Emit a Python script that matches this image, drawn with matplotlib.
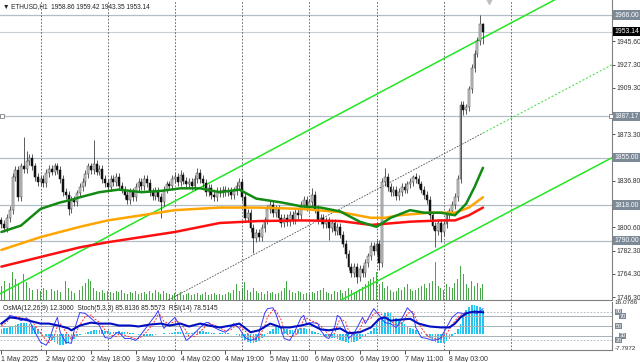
import matplotlib
matplotlib.use("Agg")
import matplotlib.pyplot as plt
from matplotlib.transforms import blended_transform_factory

plt.rcParams["font.family"] = ["Liberation Sans", "DejaVu Sans"]
plt.rcParams["font.size"] = 5

# ---- ETHUSD H1, 1 May 10:00 .. 8 May 14:00 ----
closes = [
    1803, 1800, 1808, 1814, 1840, 1845, 1824, 1848, 1846, 1852,
    1855, 1848, 1840, 1836, 1838, 1835, 1843, 1846, 1844, 1848,
    1845, 1838, 1828, 1826, 1815, 1822, 1820, 1827, 1832, 1836,
    1842, 1848, 1845, 1850, 1844, 1846, 1838, 1835, 1832, 1838,
    1836, 1840, 1833, 1830, 1826, 1822, 1828, 1824, 1832, 1836,
    1833, 1838, 1835, 1828, 1825, 1829, 1824, 1820, 1830, 1834,
    1833, 1838, 1840, 1836, 1841, 1837, 1834, 1836, 1833, 1838,
    1843, 1838, 1835, 1828, 1831, 1826, 1824, 1829, 1827, 1830,
    1828, 1829, 1826, 1829, 1833, 1836, 1824, 1808, 1812, 1800,
    1792, 1796, 1793, 1800, 1806, 1815, 1818, 1812, 1815, 1808,
    1804, 1808, 1805, 1810, 1806, 1812, 1810, 1818, 1822, 1816,
    1820, 1826, 1815, 1806, 1808, 1803, 1806, 1800, 1804, 1798,
    1801, 1795, 1788, 1780, 1770, 1765, 1770, 1762, 1768, 1765,
    1773, 1778, 1786, 1782, 1788, 1773, 1836, 1840, 1832, 1828,
    1830, 1825, 1828, 1832, 1830, 1834, 1836, 1840, 1838, 1834,
    1830, 1826, 1822, 1810, 1802, 1798, 1804, 1797, 1803, 1810,
    1813, 1818, 1824, 1838, 1896, 1892, 1894, 1908, 1925, 1936,
    1946, 1958.86, 1953.14,
]
first_open = 1806.0
wick = 3.0
high_marks = {8: 1871, 9: 1860, 33: 1869, 64: 1845, 70: 1847, 85: 1839,
              111: 1831, 137: 1847, 147: 1841, 171: 1966.0, 172: 1959.42}
low_marks = {24: 1810, 57: 1808, 90: 1781, 117: 1791, 127: 1757, 135: 1767,
             155: 1785, 157: 1789, 165: 1888, 172: 1943.35}

volumes = [
    14, 18, 22, 16, 27, 20, 15, 24, 25, 17,
    12, 10, 13, 11, 9, 12, 10, 8, 11, 9,
    10, 8, 9, 18, 12, 9, 7, 8, 10, 14,
    16, 20, 18, 12, 9, 8, 10, 7, 9, 8,
    7, 9, 8, 10, 7, 6, 8, 7, 9, 6,
    7, 8, 6, 9, 7, 10, 8, 6, 9, 7,
    6, 5, 7, 6, 8, 5, 6, 7, 5, 6,
    7, 5, 6, 8, 5, 6, 7, 5, 6, 5,
    6, 8, 7, 10, 15, 9, 12, 17, 10, 8,
    12, 9, 7, 8, 6, 9, 7, 8, 6, 7,
    9, 12, 18, 10, 8, 7, 9, 8, 6, 7,
    6, 8, 7, 9, 10, 12, 8, 7, 6, 9,
    8, 10, 7, 9, 12, 10, 8, 9, 11, 13,
    15, 18, 20, 22, 27, 15, 17, 12, 14, 10,
    8, 9, 12, 10, 13, 15, 11, 9, 10, 12,
    14, 15, 12, 16, 18, 37, 14, 12, 10, 15,
    13, 12, 16, 20, 33, 25, 15, 12, 18, 14,
    16, 12, 15,
]

# moving averages (bar index, price)
ma_green_bars = [0, 7, 14, 21, 25, 28, 35, 42, 50, 57, 64, 71, 78, 85, 91,
                 100, 107, 114, 121, 128, 134, 139, 146, 151, 157, 162, 166, 169, 172]
ma_green = [1797, 1802, 1815, 1820, 1822, 1824, 1828, 1830, 1828, 1829, 1831, 1831,
            1828, 1830, 1823, 1820, 1817, 1816, 1813, 1805, 1801, 1808, 1814, 1812,
            1812, 1810, 1819, 1832, 1847]
ma_orange_bars = [0, 14, 28, 38, 50, 62, 78, 92, 107, 121, 132, 137, 142, 153, 162, 167, 172]
ma_orange = [1783, 1793, 1801, 1806, 1810, 1814, 1816, 1816, 1815, 1812.5, 1808,
             1808, 1810, 1812, 1812, 1816, 1824]
ma_red_bars = [0, 14, 28, 38, 50, 62, 78, 92, 107, 121, 132, 135, 146, 157, 162, 167, 172]
ma_red = [1770, 1777.5, 1785, 1789, 1793, 1797, 1804, 1805.5, 1806, 1805.5, 1802.5,
          1803, 1805, 1806, 1806, 1810, 1816]

# trend channel anchors (bar, price)
chan_upper = [(0, 1749.4), (197.5, 1977.7)]
chan_lower = [(121.4, 1744.0), (218.6, 1855.4)]
chan_mid = [(59.6, 1744.0), (172, 1874.0)]
chan_mid_ext = [(172, 1874.0), (230, 1941.0)]

levels = [1966.00, 1887.17, 1855.00, 1818.00, 1790.00]
bid_price = 1953.14
price_ticks = [1945.60, 1927.30, 1909.30, 1873.30,
               1836.80, 1800.60, 1782.30, 1764.30, 1746.30]

# oscillators
osma = [
    2.5, 3, 3, 3.5, 4,
    4.5, 5, 5.5, 5.6, 5.4, 5, 4.5, 3.5, 2.5,
    1, 0,
    -1, -2, -3, -4, -4.8, -5.3, -5.2, -5, -4.5, -3.5, -2.5, -1.5,
    -0.5, 0.3, 0.8, 1.2,
    1.6, 2, 2.1, 2.1, 2, 1.8, 1.5, 1.3, 1.2,
    1.3, 1.5, 1.4, 1.2, 1, 0.8, 0.5, 0.2, -0.2,
    -0.5, -0.8, -1, -1, -0.8, -0.4, 0, 0.3, 0.5, 0.4,
    0.5, 0.8, 1, 1.2, 1, 0.8, 0.5,
    0.6, 0.9, 1.2, 1.5, 1.6, 1.5, 1.3, 1, 0.8, 0.6, 0.4, 0.5, 0.7, 0.8, 0.6, 0.3, 0, -0.5, -1,
    -2, -3, -3.8, -4.4, -4.4, -4, -3.2, -2, -0.8, 0.5,
    1.8, 2.8, 3.5, 3.6, 3.3, 2.8, 2.4,
    2.2, 2.3, 2.6, 2.8, 3, 3, 2.7, 2.3, 1.8, 1.2, 0.5,
    -0.5, -1, -1.5, -1.5, -1.8,
    -2, -2.5, -3, -3.5, -4, -4.2, -4, -3.8, -3.2, -2.4, -1.5, -0.6,
    0.5, 1.5,
    3, 5, 7, 9, 10.5, 11, 10.5, 9,
    8, 7, 6, 5, 4, 3.3, 2.7, 2, 1.5,
    1, 0.3,
    -0.8, -1.8, -2.8, -3.6, -4.2, -4.4, -4.2, -3.5, -2.5, -1.2,
    0.5, 2.5, 5,
    9, 12, 13.5, 14.5, 14.6, 14.2, 13.5, 12.3,
]
stoch_bars = [
    0, 2, 3, 5, 7, 9, 10, 12, 14, 16,
    17, 19, 20, 21, 23, 25, 26, 28, 30, 32,
    33, 35, 37, 39, 41, 42, 44, 46, 48, 49,
    51, 53, 55, 56, 57, 58, 60, 62, 64, 66,
    67, 69, 71, 73, 74, 76, 78, 80, 82, 83,
    85, 87, 89, 91, 92, 94, 95, 97, 98, 100,
    101, 103, 105, 107, 108, 109, 111, 113, 114, 116,
    117, 119, 120, 121, 123, 124, 126, 128, 129, 130,
    132, 133, 135, 137, 139, 141, 142, 144, 145, 147,
    148, 150, 152, 154, 156, 157, 159, 161, 163, 165,
    166, 168, 170, 172,
]
stoch_main = [
    55, 65, 72, 69, 61, 67, 61, 37, 16, 10,
    20, 55, 68, 37, 16, 14, 41, 78, 76, 66,
    61, 51, 26, 24, 35, 37, 24, 24, 20, 26,
    41, 57, 72, 82, 61, 45, 57, 68, 47, 20,
    24, 35, 47, 57, 57, 47, 41, 37, 47, 55,
    45, 26, 20, 24, 35, 76, 86, 88, 76, 41,
    24, 20, 41, 67, 72, 55, 57, 55, 41, 26,
    24, 47, 72, 68, 41, 24, 35, 57, 68, 55,
    76, 86, 72, 57, 55, 47, 55, 76, 88, 76,
    47, 26, 24, 20, 22, 26, 47, 68, 78, 76,
    78, 78, 76, 86,
]
stoch_signal = [
    50, 58, 66, 70, 67, 65, 63, 52, 35, 20,
    15, 30, 50, 55, 38, 22, 28, 52, 70, 73,
    66, 58, 42, 31, 28, 33, 31, 27, 23, 24,
    32, 46, 62, 74, 72, 60, 54, 60, 57, 40,
    28, 28, 38, 50, 56, 52, 46, 40, 42, 48,
    49, 40, 28, 22, 27, 48, 68, 84, 82, 62,
    40, 28, 30, 48, 64, 66, 60, 56, 50, 38,
    30, 34, 52, 66, 58, 40, 32, 42, 58, 62,
    66, 76, 78, 68, 60, 52, 52, 62, 76, 80,
    66, 46, 30, 24, 22, 24, 34, 52, 68, 76,
    77, 78, 77, 82,
]
rsi_bars = [0, 3, 7, 10, 14, 17, 21, 24, 25, 28,
            32, 35, 39, 42, 46, 49, 53, 57, 60, 64,
            67, 71, 74, 78, 82, 85, 89, 92, 96, 100,
            103, 107, 110, 114, 117, 121, 124, 128, 132, 135,
            137, 139, 142, 146, 149, 153, 157, 160, 162, 164,
            166, 167, 169, 172]
rsi = [55, 68, 65, 61, 55, 55, 50, 45, 41, 51,
       57, 55, 55, 51, 51, 49, 53, 55, 51, 55,
       49, 55, 51, 47, 51, 55, 37, 41, 55, 47,
       47, 51, 55, 43, 41, 45, 35, 37, 47, 65,
       68, 61, 63, 65, 55, 49, 47, 47, 55, 68,
       76, 78, 80, 78.5]
osma_range = (-7.7972, 16.0786)
osc_levels = [80, 70, 50, 30, 20]

time_bars = [0, 16, 32, 48, 64, 80, 96, 112, 128, 144, 160]
time_labels = ["1 May 2025", "2 May 02:00", "2 May 18:00", "3 May 10:00", "4 May 02:00",
               "4 May 19:00", "5 May 11:00", "6 May 03:00", "6 May 19:00", "7 May 11:00",
               "8 May 03:00"]
day_bars = [14, 38, 62, 86, 110, 134, 158, 182]

# ---- figure ----
W, H = 640, 362
fig = plt.figure(figsize=(W / 100, H / 100), dpi=100, facecolor="white")
ax = fig.add_axes([0, 1 - 300 / H, 612 / W, 300 / H])
axi = fig.add_axes([0, 1 - 350 / H, 612 / W, 48 / H], sharex=ax)

n = len(closes)
bars = list(range(n))
opens = [first_open] + closes[:-1]
highs = [high_marks.get(i, max(opens[i], closes[i]) + wick) for i in bars]
lows = [low_marks.get(i, min(opens[i], closes[i]) - wick) for i in bars]

for lv in levels:
    ax.axhline(lv, color="#b4bcc4", lw=0.9, zorder=1)
ax.axhline(bid_price, color="#c8ced4", lw=0.8, zorder=1)
for d in day_bars:
    ax.axvline(d, color="#555555", lw=0.6, ls=(0, (2, 2)), zorder=1)
    axi.axvline(d, color="#555555", lw=0.6, ls=(0, (2, 2)), zorder=1)

# volumes behind the price
axv = ax.twinx()
axv.bar(bars, volumes, width=0.35, color="#46a846", zorder=1)
axv.set_ylim(0, 290)
axv.axis("off")
ax.set_zorder(axv.get_zorder() + 1)
ax.patch.set_visible(False)

# channel
ax.axline(chan_upper[0], chan_upper[1], color="#22e622", lw=1.1, zorder=2)
ax.axline(chan_lower[0], chan_lower[1], color="#22e622", lw=1.1, zorder=2)
ax.plot(*zip(*chan_mid), color="#505050", lw=0.6, ls=(0, (2, 1.5)), zorder=2)
ax.plot(*zip(*chan_mid_ext), color="#33dd33", lw=0.7, ls=(0, (2, 2)), zorder=2)

# candles
ax.vlines(bars, lows, highs, color="#404040", lw=0.6, zorder=3)
up = [i for i in bars if closes[i] >= opens[i]]
dn = [i for i in bars if closes[i] < opens[i]]
ax.bar(up, [closes[i] - opens[i] for i in up], bottom=[opens[i] for i in up],
       width=0.66, color="#cfcfcf", edgecolor="#404040", lw=0.35, zorder=4)
ax.bar(dn, [opens[i] - closes[i] for i in dn], bottom=[closes[i] for i in dn],
       width=0.66, color="#111111", edgecolor="#111111", lw=0.35, zorder=4)

# moving averages
ax.plot(ma_red_bars, ma_red, color="#ff1010", lw=1.8, zorder=5, solid_capstyle="round")
ax.plot(ma_orange_bars, ma_orange, color="#ffa500", lw=1.8, zorder=5, solid_capstyle="round")
ax.plot(ma_green_bars, ma_green, color="#138a13", lw=1.8, zorder=5, solid_capstyle="round")

ax.set_xlim(-0.5, 218.1)
ax.set_ylim(1744.0, 1977.7)

# small anchors of the 1887.17 line and chart-shift marker
ax.plot([0.3], [1887.17], marker="s", ms=2.5, mfc="white", mec="#666666", mew=0.5,
        clip_on=False, zorder=6)
ax.plot([217.6], [1887.17], marker="s", ms=2.5, mfc="white", mec="#666666", mew=0.5,
        clip_on=False, zorder=6)
ax.plot([174], [1977.0], marker="v", ms=4, color="#c0c0c0", clip_on=False, zorder=6)

# right price scale
for s in ("top", "left"):
    ax.spines[s].set_visible(False)
    axi.spines[s].set_visible(False)
for a in (ax, axi):
    a.spines["right"].set_color("#808080")
    a.spines["bottom"].set_color("#808080")
    a.spines["right"].set_linewidth(0.8)
    a.spines["bottom"].set_linewidth(0.8)
ax.yaxis.tick_right()
ax.set_yticks(price_ticks, [f"{p:.2f}" for p in price_ticks])
ax.tick_params(axis="y", direction="out", length=2, width=0.6, pad=1, labelsize=4.9,
               colors="#333333")
ax.tick_params(axis="x", bottom=False, labelbottom=False)

tr = blended_transform_factory(ax.transAxes, ax.transData)
for lv in levels:
    ax.text(1.004, lv, f"{lv:.2f}", transform=tr, fontsize=4.9, color="white",
            va="center", ha="left", clip_on=False, zorder=10,
            bbox=dict(boxstyle="square,pad=0.15", fc="#7c8a98", ec="none"))
ax.text(1.004, bid_price, f"{bid_price:.2f}", transform=tr, fontsize=4.9, color="white",
        va="center", ha="left", clip_on=False, zorder=10,
        bbox=dict(boxstyle="square,pad=0.15", fc="black", ec="none"))

fig.text(3 / W, 1 - 7 / H, "\u25bc ETHUSD,H1  1958.86 1959.42 1943.35 1953.14",
         fontsize=4.7, color="#222222", va="center", ha="left")

# ---- indicator window ----
axi.bar(bars, osma, width=0.6, color="#22c4f2", zorder=2)
axi.set_ylim(*osma_range)
axi.set_yticks([])
axs = axi.twinx()
axs.set_ylim(0, 100)
axs.axis("off")
for lv in osc_levels:
    solid = lv in (70, 50, 30)
    axs.axhline(lv, color="#a8b0b8", lw=0.7 if solid else 0.6,
                ls="-" if solid else (0, (2, 2)), zorder=1)
axs.plot(stoch_bars, stoch_signal, color="#ff3030", lw=0.7, ls=(0, (2, 1.5)), zorder=3)
axs.plot(stoch_bars, stoch_main, color="#3a3aff", lw=0.7, zorder=4)
axs.plot(rsi_bars, rsi, color="#0010c0", lw=1.5, zorder=5)

tri = blended_transform_factory(axi.transAxes, axs.transData)
for k, lv in enumerate(osc_levels):
    axs.text(1.006 + 0.006 * (k % 2), lv, f"{lv}", transform=tri, fontsize=4.0,
             color="white", va="center", ha="left", clip_on=False, zorder=10,
             bbox=dict(boxstyle="square,pad=0.1", fc="#7c8a98", ec="none"))
axi.text(1.004, 0.98, f"{osma_range[1]:.4f}", transform=axi.transAxes, fontsize=4.6,
         color="#333333", va="center", ha="left")
axi.text(1.004, 0.04, f"{osma_range[0]:.4f}", transform=axi.transAxes, fontsize=4.6,
         color="#333333", va="center", ha="left")
fig.text(3 / W, 1 - 308 / H,
         "OsMA(12,26,9) 12.3060  Stoch(5,3,3) 85.8136 85.5573  RSI(14) 78.5145",
         fontsize=4.8, color="#222222", va="center", ha="left")

axi.set_xticks(time_bars, time_labels)
axi.tick_params(axis="x", direction="out", length=3, width=0.6, pad=1.5, labelsize=5,
                colors="#333333")
for lab in axi.get_xticklabels():
    lab.set_ha("left")

fig.savefig("out.png", dpi=100, facecolor="white")
